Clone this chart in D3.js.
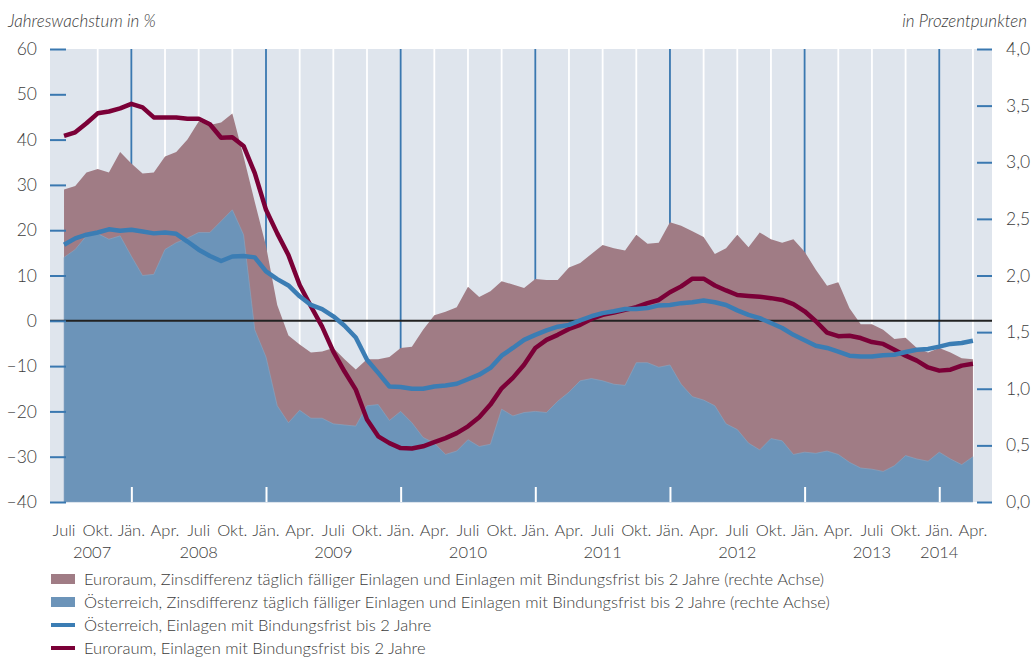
<!DOCTYPE html>
<html>
<head>
<meta charset="utf-8">
<script src="https://cdn.jsdelivr.net/npm/d3@7"></script>
<style>
  body { margin: 0; background: #fff; }
  svg text { font-family: Lato, "Open Sans", sans-serif; font-weight: 300; fill: #3c3c3c; }
</style>
</head>
<body>
<svg id="chart" width="1031" height="657"></svg>
<script>
// monthly values, Juli 2007 .. Apr. 2014
var euroEinlagen = [40.8, 41.6, 43.6, 45.8, 46.2, 46.9, 47.9, 47.1, 44.9, 44.9, 44.9, 44.6, 44.6, 43.4, 40.4, 40.5, 38.6, 32.6, 24.5, 19.3, 14.5,
  7.9, 3.2, -1.3, -6.8, -11.2, -15.2, -21.8, -25.5, -27.0, -28.1, -28.2, -27.7, -26.8, -25.9, -24.8, -23.3, -21.3, -18.5, -14.9, -12.6,
  -9.7, -6.0, -4.2, -3.1, -1.8, -0.9, 0.4, 1.3, 1.8, 2.4, 3.0, 3.9, 4.6, 6.3, 7.6, 9.3, 9.3, 7.8, 6.7, 5.7, 5.5,
  5.3, 5.0, 4.6, 3.7, 2.1, -0.1, -2.6, -3.4, -3.3, -3.8, -4.7, -5.1, -6.4, -7.7, -8.8, -10.3, -11.0, -10.8, -9.9, -9.5];

var atEinlagen = [16.8, 18.2, 19.0, 19.5, 20.2, 19.9, 20.1, 19.7, 19.3, 19.5, 19.2, 17.5, 15.7, 14.3, 13.2, 14.2, 14.3, 14.0, 10.9, 9.2, 7.8,
  5.4, 3.5, 2.6, 1.0, -1.1, -3.7, -8.6, -11.5, -14.5, -14.6, -15.0, -15.0, -14.5, -14.3, -13.9, -12.9, -11.9, -10.4, -7.7, -6.0,
  -4.2, -3.1, -2.1, -1.3, -0.9, 0.1, 1.0, 1.7, 2.1, 2.6, 2.6, 2.8, 3.4, 3.5, 3.9, 4.1, 4.5, 4.1, 3.5, 2.3, 1.3,
  0.6, -0.5, -1.6, -3.1, -4.3, -5.5, -6.0, -6.8, -7.7, -7.9, -7.9, -7.6, -7.5, -6.9, -6.4, -6.2, -5.7, -5.1, -4.9, -4.4];

var euroSpread = [2.76, 2.79, 2.91, 2.94, 2.91, 3.09, 2.99, 2.90, 2.91, 3.05, 3.09, 3.20, 3.36, 3.33, 3.35, 3.43, 3.05, 2.65, 2.26, 1.74, 1.47,
  1.39, 1.32, 1.33, 1.36, 1.26, 1.17, 1.26, 1.26, 1.28, 1.36, 1.37, 1.52, 1.65, 1.68, 1.72, 1.90, 1.81, 1.86, 1.95, 1.92,
  1.89, 1.97, 1.96, 1.96, 2.07, 2.11, 2.19, 2.27, 2.24, 2.22, 2.36, 2.28, 2.29, 2.47, 2.44, 2.39, 2.34, 2.19, 2.24, 2.36, 2.25,
  2.38, 2.32, 2.29, 2.32, 2.21, 2.05, 1.91, 1.94, 1.71, 1.57, 1.57, 1.52, 1.44, 1.45, 1.36, 1.32, 1.36, 1.32, 1.27, 1.26];

var atSpread = [2.16, 2.23, 2.35, 2.37, 2.32, 2.35, 2.17, 2.00, 2.01, 2.23, 2.29, 2.33, 2.38, 2.38, 2.48, 2.58, 2.36, 1.52, 1.28, 0.85, 0.70,
  0.81, 0.74, 0.74, 0.69, 0.68, 0.67, 0.85, 0.86, 0.72, 0.80, 0.70, 0.57, 0.52, 0.42, 0.45, 0.55, 0.49, 0.51, 0.82, 0.76,
  0.79, 0.80, 0.79, 0.89, 0.97, 1.07, 1.09, 1.07, 1.04, 1.03, 1.23, 1.23, 1.19, 1.21, 1.04, 0.93, 0.90, 0.85, 0.69, 0.64, 0.52,
  0.46, 0.56, 0.54, 0.42, 0.44, 0.43, 0.45, 0.42, 0.35, 0.30, 0.29, 0.27, 0.32, 0.41, 0.38, 0.36, 0.44, 0.38, 0.33, 0.40];

var quarterLabels = ["Juli", "Okt.", "Jän.", "Apr."];
var yearLabels = ["2007", "2008", "2009", "2010", "2011", "2012", "2013", "2014"];
var yearLabelMonth = [2.5, 12, 24, 36, 48, 60, 72, 78];
var leftTicks = [-40, -30, -20, -10, 0, 10, 20, 30, 40, 50, 60];
var rightTicks = [0, 0.5, 1, 1.5, 2, 2.5, 3, 3.5, 4];
var legendItems = [
  "Euroraum, Zinsdifferenz täglich fälliger Einlagen und Einlagen mit Bindungsfrist bis 2 Jahre (rechte Achse)",
  "Österreich, Zinsdifferenz täglich fälliger Einlagen und Einlagen mit Bindungsfrist bis 2 Jahre (rechte Achse)",
  "Österreich, Einlagen mit Bindungsfrist bis 2 Jahre",
  "Euroraum, Einlagen mit Bindungsfrist bis 2 Jahre"
];

var cMauve = "#a07c85", cBlueArea = "#6c94b9", cBlueLine = "#3b7db4", cMaroon = "#7b0037",
    cGrid = "#3a78b0", cBg = "#dfe5ed";

var months = d3.range(euroEinlagen.length);

var x = d3.scaleLinear().domain([-1.25, 82.7]).range([50, 992]);
var yL = d3.scaleLinear().domain([-40, 60]).range([502, 49]);
var yR = d3.scaleLinear().domain([0, 4]).range([502, 49]);

var svg = d3.select('svg#chart');

svg.append('rect')
  .attr('x', x.range()[0]).attr('y', yL(60))
  .attr('width', x.range()[1] - x.range()[0])
  .attr('height', yL(-40) - yL(60))
  .attr('fill', cBg);

// quarterly grid, Jän. in blue
var quarters = months.filter(i => i % 3 == 0);
svg.selectAll('line.grid').data(quarters.filter(i => i > 0)).enter().append('line')
  .attr('class', 'grid')
  .attr('x1', d => x(d)).attr('x2', d => x(d))
  .attr('y1', yL(60)).attr('y2', yL(-40))
  .attr('stroke', d => (d % 12 == 6 ? cGrid : '#fff'))
  .attr('stroke-width', 1.8);

// spreads (right axis)
svg.append('path')
  .datum(months)
  .attr('fill', cMauve)
  .attr('d', d3.area().x(i => x(i)).y0(yR(0)).y1(i => yR(euroSpread[i])));

svg.append('path')
  .datum(months)
  .attr('fill', cBlueArea)
  .attr('stroke', '#8aa6c2')
  .attr('stroke-width', 0.6)
  .attr('d', d3.area().x(i => x(i)).y0(yR(0)).y1(i => yR(atSpread[i])));

// bottom ticks at Jän.
svg.append('g')
  .attr('transform', 'translate(0,' + yL(-40) + ')')
  .call(d3.axisBottom(x).tickValues(months.filter(i => i % 12 == 6)).tickSize(-15).tickFormat(''))
  .call(g => g.select('.domain').remove())
  .call(g => g.selectAll('line').attr('stroke', '#fff').attr('stroke-width', 2));

// zero line
svg.append('line')
  .attr('x1', x.range()[0]).attr('x2', x.range()[1])
  .attr('y1', yL(0)).attr('y2', yL(0))
  .attr('stroke', '#222').attr('stroke-width', 2);

var line = function(values) {
  return d3.line().x(i => x(i)).y(i => yL(values[i]));
};

svg.append('path').datum(months)
  .attr('fill', 'none').attr('stroke', cMaroon).attr('stroke-width', 4.5)
  .attr('stroke-linejoin', 'round')
  .attr('d', line(euroEinlagen));

svg.append('path').datum(months)
  .attr('fill', 'none').attr('stroke', cBlueLine).attr('stroke-width', 4.5)
  .attr('stroke-linejoin', 'round')
  .attr('d', line(atEinlagen));

// axes
var comma = v => d3.format('.1f')(v).replace('.', ',');

svg.append('g')
  .attr('transform', 'translate(66,0)')
  .call(d3.axisLeft(yL).tickValues(leftTicks).tickSize(16).tickPadding(13)
    .tickFormat(v => (v < 0 ? '\u2013' + Math.abs(v) : v)))
  .call(g => g.select('.domain').remove())
  .call(g => g.selectAll('line').attr('stroke', cGrid).attr('stroke-width', 2))
  .call(g => g.selectAll('text').attr('font-size', 17.5).attr('font-family', null));

svg.append('g')
  .attr('transform', 'translate(977,0)')
  .call(d3.axisRight(yR).tickValues(rightTicks).tickSize(15).tickPadding(14).tickFormat(comma))
  .call(g => g.select('.domain').remove())
  .call(g => g.selectAll('line').attr('stroke', cGrid).attr('stroke-width', 2))
  .call(g => g.selectAll('text').attr('font-size', 17.5).attr('font-family', null));

// month and year labels
svg.selectAll('text.month').data(quarters).enter().append('text')
  .attr('class', 'month')
  .attr('x', d => x(d)).attr('y', 536)
  .attr('text-anchor', 'middle').attr('font-size', 16.5)
  .text(d => quarterLabels[(d / 3) % 4]);

svg.selectAll('text.year').data(yearLabels).enter().append('text')
  .attr('class', 'year')
  .attr('x', (d, i) => x(yearLabelMonth[i])).attr('y', 558)
  .attr('text-anchor', 'middle').attr('font-size', 16.5)
  .text(d => d);

// axis titles
svg.append('text').attr('x', 8).attr('y', 27)
  .attr('font-size', 17).attr('font-style', 'italic')
  .text('Jahreswachstum in %');
svg.append('text').attr('x', 1027).attr('y', 27)
  .attr('font-size', 17).attr('font-style', 'italic').attr('text-anchor', 'end')
  .text('in Prozentpunkten');

// legend
var legendColors = [cMauve, cBlueArea, cBlueLine, cMaroon];
var lg = svg.selectAll('g.legend').data(legendItems).enter().append('g')
  .attr('transform', (d, i) => 'translate(51,' + (579 + i * 23) + ')');
lg.append('rect')
  .attr('x', 0).attr('y', (d, i) => (i < 2 ? -5 : -2))
  .attr('width', 24).attr('height', (d, i) => (i < 2 ? 10 : 4))
  .attr('fill', (d, i) => legendColors[i]);
lg.append('text')
  .attr('x', 33).attr('y', 6)
  .attr('font-size', 16.5)
  .text(d => d);
</script>
</body>
</html>
